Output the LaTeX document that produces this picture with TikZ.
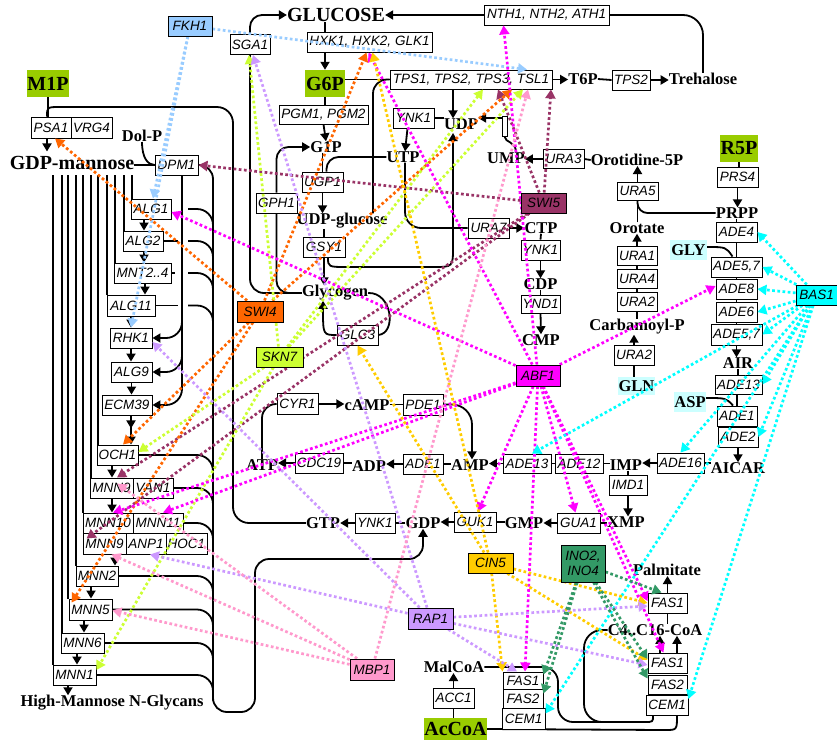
\documentclass[tikz,border=0pt]{standalone}
\usepackage{fontspec}
\setmainfont{Liberation Serif}
\setsansfont{Liberation Sans}
\usetikzlibrary{arrows.meta}
\pgfdeclarelayer{bg}
\pgfdeclarelayer{fg}
\pgfsetlayers{bg,main,fg}

\definecolor{poolc}{HTML}{99CC00}
\definecolor{aac}{HTML}{CCFFFF}
\definecolor{fkhc}{HTML}{99CCFF}
\definecolor{swifive}{HTML}{993366}
\definecolor{swifour}{HTML}{FF6600}
\definecolor{sknc}{HTML}{CCFF33}
\definecolor{abfc}{HTML}{FF00FF}
\definecolor{basc}{HTML}{00FFFF}
\definecolor{cinc}{HTML}{FFCC00}
\definecolor{rapc}{HTML}{CC99FF}
\definecolor{mbpc}{HTML}{FF99CC}
\definecolor{inoc}{HTML}{339966}

% gene box: name, centre, width, label
\newcommand\gb[5][]{\node[gene,minimum width=#4pt,#1] (#2) at (#3) {#5};}

\begin{document}
\begin{tikzpicture}[x=1pt,y=-1pt,
  gene/.style={draw, line width=0.9pt, fill=white, inner sep=0pt, minimum height=20pt,
               font=\sffamily\itshape\fontsize{13.5}{15}\selectfont},
  met/.style={inner sep=0pt, font=\bfseries\fontsize{16.5}{18}\selectfont},
  bigmet/.style={inner sep=0pt, font=\bfseries\fontsize{20}{22}\selectfont},
  pool/.style={bigmet, fill=poolc, minimum height=27pt},
  aa/.style={met, fill=aac, minimum height=20pt},
  rx/.style={line width=1.8pt},
  rxa/.style={rx, -{Triangle[length=8pt,width=9pt]}},
  ctl/.style={draw=#1, line width=2.7pt, dash pattern=on 2.7pt off 2.5pt,
              -{Triangle[length=9pt,width=10pt]}}]
\path[use as bounding box] (0,0) rectangle (837,742);

% ---------------- enzymes ----------------
\gb{sga}{250,44.5}{40}{SGA1}
\gb{hxk}{369.5,42}{125}{HXK1, HXK2, GLK1}
\gb{nth}{546.5,15}{125}{NTH1, NTH2, ATH1}
\gb[minimum height=19pt]{tps}{471,79.5}{162}{TPS1, TPS2, TPS3, TSL1}
\gb{tps2}{631,80}{38}{TPS2}
\gb[minimum height=19pt]{pgm}{323.5,114.5}{89}{PGM1, PGM2}
\gb{ynk1a}{413.5,118}{41}{YNK1}
\gb{ura6}{504.5,126}{5}{}
\gb{ugp1}{322.5,182}{41}{UGP1}
\gb{gph1}{276.5,203}{41}{GPH1}
\gb[minimum height=19pt]{ura3}{563.5,159}{41}{URA3}
\gb{gsy1}{324,247}{42}{GSY1}
\gb{ura7}{488.5,228}{41}{URA7}
\gb{ynk1b}{540.5,250}{39}{YNK1}
\gb[minimum height=18pt]{ynd1}{540.5,304}{39}{YND1}
\gb{glc3}{357.5,335}{41}{GLC3}
\gb[minimum height=18pt]{ura5}{637.5,191}{41}{URA5}
\gb{prs4}{737.5,177}{41}{PRS4}
\gb[minimum height=19pt]{ura1}{637,256}{40}{URA1}
\gb[minimum height=19pt]{ura4}{637,279}{40}{URA4}
\gb[minimum height=19pt]{ura2a}{637,302}{40}{URA2}
\gb{ura2b}{634,355}{40}{URA2}
\gb{ade4}{736.5,232}{41}{ADE4}
\gb{ade57a}{736.5,267}{51}{ADE5,7}
\gb{ade8}{736.5,289}{41}{ADE8}
\gb{ade6}{736.5,312}{41}{ADE6}
\gb[minimum height=21pt]{ade57b}{736.5,334.5}{51}{ADE5,7}
\gb[minimum height=19pt]{ade13b}{738.5,384.5}{47}{ADE13}
\gb{ade1b}{737,416}{40}{ADE1}
\gb{ade2}{738,437}{40}{ADE2}
\gb{ade16}{680.5,463}{47}{ADE16}
\gb[minimum height=19pt]{ade12}{579,463.5}{48}{ADE12}
\gb[minimum height=19pt]{ade13a}{527,463.5}{48}{ADE13}
\gb{imd1}{628,485}{38}{IMD1}
\gb{ade1a}{423,464}{40}{ADE1}
\gb{cdc19}{319,463}{48}{CDC19}
\gb[minimum height=21pt]{cyr1}{297.5,404}{41}{CYR1}
\gb[minimum height=21pt]{pde1}{423,404.5}{40}{PDE1}
\gb{ynk1c}{375,523}{40}{YNK1}
\gb{guk1}{475,522}{42}{GUK1}
\gb{gua1}{578.5,523}{43}{GUA1}
\gb{fas1t}{667.5,603}{39}{FAS1}
\gb{fas1r}{667.5,663}{39}{FAS1}
\gb[minimum height=19pt]{fas2r}{667.5,684.5}{39}{FAS2}
\gb{cem1r}{667,705}{42}{CEM1}
\gb[minimum height=17pt]{fas1l}{523,680.5}{40}{FAS1}
\gb[minimum height=19pt]{fas2l}{523,698.5}{40}{FAS2}
\gb[minimum height=21pt]{cem1l}{523.5,718.5}{43}{CEM1}
\gb{acc1}{453.5,698}{41}{ACC1}
% mannosylation
\gb[minimum height=21pt]{psa1}{51,127.5}{40}{PSA1}
\gb[minimum height=21pt]{vrg4}{91.5,127.5}{41}{VRG4}
\gb{dpm1}{176.5,165}{43}{DPM1}
\gb{alg1}{151,209}{40}{ALG1}
\gb{alg2}{143,241}{40}{ALG2}
\gb{mnt}{142.5,273}{57}{MNT2..4}
\gb[minimum height=21pt]{alg11}{131,305.5}{48}{ALG11}
\gb{rhk1}{131,338}{42}{RHK1}
\gb{alg9}{131.5,372}{41}{ALG9}
\gb{ecm39}{127,405}{50}{ECM39}
\gb{och1}{117.5,455}{41}{OCH1}
\gb{mnn9a}{111.5,488}{43}{MNN9}
\gb{van1}{153,488}{40}{VAN1}
\gb{mnn10}{108,523}{50}{MNN10}
\gb{mnn11}{158,523}{50}{MNN11}
\gb[minimum height=21pt]{mnn9b}{104.5,543.5}{43}{MNN9}
\gb[minimum height=21pt]{anp1}{146,543.5}{40}{ANP1}
\gb[minimum height=21pt]{hoc1}{186.5,543.5}{41}{HOC1}
\gb{mnn2}{97,576}{42}{MNN2}
\gb[minimum height=21pt]{mnn5}{90.5,609.5}{43}{MNN5}
\gb{mnn6}{82.5,643}{43}{MNN6}
\gb{mnn1}{74.5,675}{43}{MNN1}

% ---------------- metabolites ----------------
\node[bigmet] (glucose) at (336,15) {GLUCOSE};
\node[pool, minimum width=40pt] (g6p) at (325,83.5) {G6P};
\node[pool, minimum width=42pt] (m1p) at (48,83.5) {M1P};
\node[pool, minimum width=38pt] (r5p) at (739,148.5) {R5P};
\node[pool, minimum width=63pt, minimum height=22pt] (acoa) at (455.5,729) {AcCoA};
\node[bigmet] (gdpm) at (72,163) {GDP-mannose};
\node[met] (dolp) at (142,136) {Dol-P};
\node[met] (g1p) at (326,147) {G1P};
\node[met] (udp) at (461,124) {UDP};
\node[met] (utp) at (403,157) {UTP};
\node[met] (ump) at (506,158) {UMP};
\node[met] (oro5p) at (637,160) {Orotidine-5P};
\node[met] (t6p) at (583,79) {T6P};
\node[met] (treh) at (703,79) {Trehalose};
\node[met] (udpg) at (342,221) {UDP-glucose};
\node[met] (glyc) at (335,293) {Glycogen};
\node[met] (ctp) at (541,228) {CTP};
\node[met] (cdp) at (540.5,284) {CDP};
\node[met] (cmp) at (541,340) {CMP};
\node[met] (prpp) at (737,213) {PRPP};
\node[met] (orot) at (637,228) {Orotate};
\node[met] (carb) at (637,327) {Carbamoyl-P};
\node[aa, minimum width=37pt, minimum height=18pt] (gln) at (636.5,386) {GLN};
\node[aa, minimum width=37pt] (gly) at (688.5,250) {GLY};
\node[aa, minimum width=32pt] (asp) at (690,402) {ASP};
\node[met] (air) at (738,363) {AIR};
\node[met] (aicar) at (738,468) {AICAR};
\node[met] (imp) at (626,465) {IMP};
\node[met] (xmp) at (626,522) {XMP};
\node[met] (amp) at (470,465) {AMP};
\node[met] (adp) at (369,466) {ADP};
\node[met] (atp) at (262,465) {ATP};
\node[met] (camp) at (367,405) {cAMP};
\node[met] (gtp) at (323,523) {GTP};
\node[met] (gdp) at (423,523) {GDP};
\node[met] (gmp) at (524,523) {GMP};
\node[met] (palm) at (667,570) {Palmitate};
\node[met] (c416) at (655,630) {C4..C16-CoA};
\node[met] (malcoa) at (454,667) {MalCoA};
\node[met] (hmng) at (112,703) {High-Mannose N-Glycans};

% ---------------- transcription factors ----------------
\begin{pgfonlayer}{fg}
\node[gene, fill=fkhc, minimum width=44pt] (fkh1) at (190,26) {FKH1};
\node[gene, fill=swifive, minimum width=45pt] (swi5) at (543.5,203) {SWI5};
\node[gene, fill=swifour, minimum width=46pt, minimum height=21pt] (swi4) at (260,311.5) {SWI4};
\node[gene, fill=sknc, minimum width=47pt] (skn7) at (279.5,357) {SKN7};
\node[gene, fill=abfc, minimum width=44pt, minimum height=21pt] (abf1) at (538,375.5) {ABF1};
\node[gene, fill=basc, minimum width=41pt] (bas1) at (816.5,295) {BAS1};
\node[gene, fill=cinc, minimum width=45pt] (cin5) at (490.5,563) {CIN5};
\node[gene, fill=rapc, minimum width=45pt, minimum height=21pt] (rap1) at (430.5,618.5) {RAP1};
\node[gene, fill=mbpc, minimum width=44pt, minimum height=21pt] (mbp1) at (372,669.5) {MBP1};
\node[gene, fill=inoc, minimum width=44pt, minimum height=37pt, align=center,
      font=\sffamily\itshape\fontsize{13.5}{15}\selectfont] (ino) at (583,563.5) {INO2,\\INO4};
\end{pgfonlayer}

% ---------------- reactions ----------------
\begin{pgfonlayer}{bg}
% glucose, trehalose
\draw[rxa, rounded corners=12pt] (sga.north) |- (glucose.west);
\draw[rxa] (nth.west) -- (glucose.east);
\draw[rx, rounded corners=20pt] (nth.east) -| (treh.north);
\draw[rx] (g6p |- glucose.south) -- (g6p |- hxk.north);
\draw[rxa] (g6p |- hxk.south) -- (g6p.north);
\draw[rx] (g6p.east |- tps.west) -- (tps.west);
\draw[rx, rounded corners=14pt] ([xshift=31pt]udpg.north) |- (tps.west);
\draw[rxa] (tps.east) -- (t6p.west |- tps.east);
\draw[rx] (t6p.east) -- (tps2.west);
\draw[rxa] (tps2.east) -- (treh.west |- tps2.east);
% glycogen
\draw[rx] (g6p.south) -- (g6p.south |- pgm.north);
\draw[rxa] (pgm.south) -- (g1p.north);
\draw[rx] (g1p.south -| ugp1) -- (ugp1.north);
\draw[rx, rounded corners=12pt] (utp.west) -| ([xshift=4pt]ugp1.north);
\draw[rxa] (ugp1.south) -- (ugp1.south |- udpg.north);
\draw[rx] (udpg.south -| gsy1) -- (gsy1.north);
\draw[rxa] (gsy1.south) -- (gsy1.south |- glyc.north);
\draw[rxa] ([xshift=4pt]gsy1.south) .. controls (328,267) .. (348,267) -- (433,267)
  .. controls (453,267) .. (453,247) -- (453,133);
\draw[rx, rounded corners=14pt] (sga.south) |- (glyc.west);
\draw[rx, rounded corners=12pt] (gph1.south) |- (glyc.west);
\draw[rxa, rounded corners=12pt] (gph1.north) |- (g1p.west);
\draw[rx] (glyc.east) .. controls (392,292) and (397,333) .. (glc3.east);
\draw[rxa] (glc3.west) .. controls (323,335) .. ([xshift=-12pt]glyc.south);
% pyrimidines
\draw[rxa] ([xshift=-18pt]tps.south) -- ([xshift=-8pt]udp.north);
\draw[rx] (ynk1a.east) -- (udp.west |- ynk1a.east);
\draw[rxa] ([xshift=-6pt]ynk1a.south) -- ([xshift=2pt]utp.north);
\draw[rxa] ([yshift=8pt]ura6.west) -- ([yshift=6pt]udp.east);
\draw[rx] ([xshift=10pt]ump.north) .. controls (516,141) and (505,143) .. (ura6.south);
\draw[rxa] (ura3.west) -- (ump.east |- ura3.west);
\draw[rx] (oro5p.west) -- (ura3.east);
\draw[rx, rounded corners=16pt] ([xshift=2pt]utp.south) |- (ura7.west);
\draw[rxa] (ura7.east) -- (ctp.west);
\draw[rx] (ctp.south) -- (ynk1b.north);
\draw[rxa] (ynk1b.south) -- (cdp.north);
\draw[rx] (cdp.south) -- (ynd1.north);
\draw[rxa] (ynd1.south) -- (cmp.north);
\draw[rx] (r5p.south) -- (r5p.south |- prs4.north);
\draw[rxa] (prs4.south) -- (prs4.south |- prpp.north);
\draw[rx, rounded corners=10pt] (prpp.west) -| (ura5.south);
\draw[rx] (orot.north -| ura5) -- (ura5.south);
\draw[rxa] (ura5.north) -- (ura5.north |- oro5p.south);
\draw[rxa] (ura1.north) -- (ura1.north |- orot.south);
\draw[rx] (ura1.south) -- (ura4.north);
\draw[rx] (ura4.south) -- (ura2a.north);
\draw[rx] (ura2a.south) -- (ura2a.south |- carb.north);
\draw[rxa] (ura2b.north) -- (ura2b.north |- carb.south);
\draw[rx] (ura2b.south) -- (ura2b.south |- gln.north);
% purines
\draw[rx] (prpp.south -| ade4) -- (ade4.north);
\draw[rx] (ade4.south) -- (ade57a.north);
\draw[rx] ([yshift=3pt]gly.east) .. controls (726,247) .. ([xshift=-4pt]ade57a.north);
\draw[rx] (ade57a.south) -- (ade8.north);
\draw[rx] (ade8.south) -- (ade6.north);
\draw[rx] (ade6.south) -- (ade57b.north);
\draw[rxa] (ade57b.south) -- (ade57b.south |- air.north);
\draw[rx] (air.south) -- (air.south |- ade13b.north);
\draw[rx] (ade13b.south -| ade1b) -- (ade1b.north);
\draw[rx] ([yshift=4pt]asp.east) .. controls (726,398) .. ([xshift=-4pt]ade1b.north);
\draw[rxa] (ade2.south) -- (ade2.south |- aicar.north);
\draw[rx] (aicar.west |- ade16.east) -- (ade16.east);
\draw[rxa] (ade16.west) -- (imp.east |- ade16.west);
\draw[rx] (imp.west |- ade12.east) -- (ade12.east);
\draw[rx] (ade12.west) -- (ade13a.east);
\draw[rxa] (ade13a.west) -- (amp.east |- ade13a.west);
\draw[rx] (amp.west |- ade1a.east) -- (ade1a.east);
\draw[rxa] (ade1a.west) -- (adp.east |- ade1a.west);
\draw[rx] (adp.west |- cdc19.east) -- (cdc19.east);
\draw[rxa] (cdc19.west) -- (atp.east |- cdc19.west);
\draw[rx, rounded corners=14pt] (atp.north) |- (cyr1.west);
\draw[rxa] (cyr1.east) -- (camp.west |- cyr1.east);
\draw[rx] (camp.east |- pde1.west) -- (pde1.west);
\draw[rxa, rounded corners=20pt] (pde1.east) -| ([xshift=2pt]amp.north);
\draw[rx] (imd1.north |- imp.south) -- (imd1.north);
\draw[rxa] (imd1.south) -- (imd1.south |- xmp.north);
\draw[rx] (xmp.west |- gua1.east) -- (gua1.east);
\draw[rxa] (gua1.west) -- (gmp.east |- gua1.west);
\draw[rx] (gmp.west |- guk1.east) -- (guk1.east);
\draw[rxa] (guk1.west) -- (gdp.east |- guk1.west);
\draw[rx] (gdp.west |- ynk1c.east) -- (ynk1c.east);
\draw[rxa] (ynk1c.west) -- (gtp.east |- ynk1c.west);
% GTP feeds GDP-mannose synthesis
\draw[rx, rounded corners=16pt] (gtp.west) -- (233,523) -- (233,107) -- (60,107);
\draw[rx] (60.5,107) .. controls (47,107) .. ([xshift=-4pt]psa1.north);
\draw[rx] (m1p.south) -- (m1p.south |- psa1.north);
\draw[rxa] ([xshift=-4pt]psa1.south) -- ++(0,13);
\draw[rx] (gdpm.east |- dpm1.west) -- (dpm1.west);
\draw[rx] (dolp.south) .. controls (142,158) and (148,165) .. (dpm1.west);
% Dol-P-Man donors
\draw[rxa, rounded corners=16pt] ([xshift=5.5pt]dpm1.south) |- (rhk1.east);
\draw[rxa, rounded corners=16pt] ([xshift=5.5pt]dpm1.south) |- (alg9.east);
\draw[rxa, rounded corners=16pt] ([xshift=5.5pt]dpm1.south) |- (ecm39.east);
% GDP return loop
\draw[rxa, rounded corners=14pt] (dpm1.east) -| (213,712) -| (255,559) -| (gdp.south);
\foreach \y in {209,241,273,305.5}
  \draw[rx, rounded corners=16pt] (188,\y) -| (213,700);
\draw[rx] (alg2.east) -- (178,241);
\draw[rx] (mnt.east) -- (175,273);
\draw[rx] (alg11.east) -- (178,305.5);
\foreach \b in {och1,van1,mnn11,mnn2,mnn5,mnn6,mnn1}
  \draw[rx, rounded corners=16pt] (\b.east) -| (213,700);
% GDP-mannose to each mannosyltransferase
\foreach \x/\y in {53/665,62/633,68/599,76/566,83/513,91/478,98/445,107/295,115/263,124/231,132/199}
  \draw[line width=1.4pt] (\x,175) -- (\x,\y);
% glycan chain
\draw[rxa] ([xshift=-7pt]alg1.south) -- ([xshift=1pt]alg2.north);
\draw[rxa] ([xshift=1pt]alg2.south) -- ([xshift=1.5pt]mnt.north);
\draw[rxa] ([xshift=2.5pt]mnt.south) -- ([xshift=14pt]alg11.north);
\draw[rxa] (alg11.south) -- (rhk1.north);
\draw[rxa] (rhk1.south) -- (rhk1.south |- alg9.north);
\draw[rxa] (alg9.south) -- (alg9.south |- ecm39.north);
\draw[rxa] ([xshift=4pt]ecm39.south) -- ++(0,13);
\draw[rxa] ([xshift=4pt]ecm39.south) ++(0,10) -- ([xshift=13.5pt]och1.north);
\draw[rxa] ([xshift=-5.5pt]och1.south) -- ([xshift=0.5pt]mnn9a.north);
\draw[rxa] ([xshift=0.5pt]mnn9a.south) -- ([xshift=4pt]mnn10.north);
\draw[rxa] ([xshift=10.5pt]mnn9b.south) -- ([xshift=18pt]mnn2.north);
\draw[rxa] ([xshift=-6pt]mnn2.south) -- ([xshift=0.5pt]mnn5.north);
\draw[rxa] ([xshift=-6.5pt]mnn5.south) -- ([xshift=1.5pt]mnn6.north);
\draw[rxa] ([xshift=-5.5pt]mnn6.south) -- ([xshift=2.5pt]mnn1.north);
\draw[rxa] ([xshift=-6.5pt]mnn1.south) -- ([xshift=-44pt]hmng.north);
% fatty acids
\draw[rxa] (fas1t.north) -- (fas1t.north |- palm.south);
\draw[rx] (fas1t.south) -- (fas1t.south |- c416.north);
\draw[rxa] ([xshift=-7.5pt]fas1r.north) -- ([xshift=-7.5pt]fas1r.north |- c416.south);
\draw[rxa] ([xshift=9.5pt]fas1r.north) -- ([xshift=9.5pt]fas1r.north |- c416.south);
\draw[rx, rounded corners=15pt] (malcoa.east) -- (558,667) -- (558,722) -- (645,722);
\draw[rx] (644.5,722) .. controls (653,722) .. ([xshift=-14pt]cem1r.south);
\draw[rx, rounded corners=18pt] (c416.west) -- (584,630) -- (584,722) -- (600,722);
\draw[rx] (acoa.east) -- (665,730) .. controls (677,730) .. ([xshift=10pt]cem1r.south);
\draw[rx] (acc1.south |- acoa.north) -- (acc1.south);
\draw[rxa] (acc1.north) -- (acc1.north |- malcoa.south);
\end{pgfonlayer}

% ---------------- regulation ----------------
% FKH1
\draw[ctl=fkhc] (fkh1) -- ([xshift=56pt]tps.north);
\draw[ctl=fkhc] (fkh1) -- ([xshift=2pt]alg1.north);
\draw[ctl=fkhc] (fkh1) -- (rhk1.north);
% SWI5
\draw[ctl=swifive] (swi5) -- (dpm1.east);
\draw[ctl=swifive] (swi5) -- ([xshift=80pt]tps.south);
\draw[ctl=swifive] (swi5) -- ([xshift=27pt]tps.south);
\draw[ctl=swifive] (swi5) -- ([xshift=5.5pt]mnn9a.north);
\draw[ctl=swifive] (swi5) -- ([xshift=4pt,yshift=-6pt]mnn9b.north west);
% SWI4
\draw[ctl=swifour] (swi4) -- ([xshift=4pt]psa1.south);
\draw[ctl=swifour] (swi4) -- ([xshift=-3pt]hxk.south);
\draw[ctl=swifour] (swi4) -- ([xshift=41pt]tps.south);
\draw[ctl=swifour] (swi4) -- ([xshift=5.5pt]och1.north);
\draw[ctl=swifour] (swi4) -- ([xshift=3pt,yshift=-4pt]mnn5.north west);
% SKN7
\draw[ctl=sknc] (skn7) -- ([xshift=-1pt]sga.south);
\draw[ctl=sknc] (skn7) -- ([xshift=12pt]tps.south);
\draw[ctl=sknc] (skn7) -- ([xshift=52pt]tps.south);
\draw[ctl=sknc] (skn7) -- ([yshift=3pt]och1.east);
\draw[ctl=sknc] (skn7) -- ([yshift=5pt]mnn1.east);
% ABF1
\draw[ctl=abfc] (abf1) -- ([xshift=-43pt]nth.south);
\draw[ctl=abfc] (abf1) -- ([xshift=-1pt]hxk.south);
\draw[ctl=abfc] (abf1) -- ([yshift=-3pt]alg1.east);
\draw[ctl=abfc] (abf1) -- ([xshift=5pt]mnn10.north);
\draw[ctl=abfc] (abf1) -- ([xshift=5pt]mnn11.north);
\draw[ctl=abfc] (abf1) -- ([yshift=3pt]ade8.west);
\draw[ctl=abfc] (abf1) -- ([xshift=3pt]guk1.north);
\draw[ctl=abfc] (abf1) -- ([xshift=-3pt]gua1.north);
\draw[ctl=abfc] (abf1) -- ([xshift=2pt]fas1l.north);
\draw[ctl=abfc] (abf1) -- ([yshift=2pt]fas1t.west);
\draw[ctl=abfc] (abf1) -- ([xshift=-4pt]fas1r.north);
% BAS1
\draw[ctl=basc] (bas1) -- (ade4.east);
\draw[ctl=basc] (bas1) -- (ade57a.east);
\draw[ctl=basc] (bas1) -- (ade8.east);
\draw[ctl=basc] (bas1) -- (ade6.east);
\draw[ctl=basc] (bas1) -- (ade57b.east);
\draw[ctl=basc] (bas1) -- (ade13b.east);
\draw[ctl=basc] (bas1) -- (ade2.east);
\draw[ctl=basc] (bas1) -- (ade16.north);
\draw[ctl=basc] (bas1) -- ([xshift=5pt]ade13a.north);
\draw[ctl=basc] (bas1) -- ([yshift=5pt]cem1l.east);
\draw[ctl=basc] (bas1) -- ([yshift=6pt]cem1r.east);
% CIN5
\draw[ctl=cinc] (cin5) -- ([xshift=3pt]hxk.south);
\draw[ctl=cinc] (cin5) -- (glc3.south);
\draw[ctl=cinc] (cin5) -- (fas1l.north west);
\draw[ctl=cinc] (cin5) -- (fas1t.west);
\draw[ctl=cinc] (cin5) -- ([yshift=3pt]fas1r.west);
% RAP1
\draw[ctl=rapc] (rap1) -- ([xshift=3pt]sga.south);
\draw[ctl=rapc] (rap1) -- ([yshift=-4pt]rhk1.east);
\draw[ctl=rapc] (rap1) -- ([xshift=4pt]anp1.south);
\draw[ctl=rapc] (rap1) -- ([xshift=-6pt]fas1l.north);
\draw[ctl=rapc] (rap1) -- ([yshift=-3pt]fas1t.west);
\draw[ctl=rapc] (rap1) -- ([yshift=-2pt]fas1r.west);
% MBP1
\draw[ctl=mbpc] (mbp1) -- ([xshift=57pt]tps.south);
\draw[ctl=mbpc] (mbp1) -- ([xshift=6pt,yshift=-6pt]mnn9a.north);
\draw[ctl=mbpc] (mbp1) -- ([xshift=7pt]mnn9b.south);
\draw[ctl=mbpc] (mbp1) -- ([yshift=-1pt]mnn5.east);
% INO2/INO4
\draw[ctl=inoc] (ino) -- ([xshift=-6pt]fas1t.north);
\draw[ctl=inoc] (ino) -- ([yshift=4pt]fas1r.west);
\draw[ctl=inoc] (ino) -- ([yshift=6pt]fas2r.west);
\draw[ctl=inoc] (ino) -- ([yshift=6pt]fas1l.east);
\draw[ctl=inoc] (ino) -- ([yshift=5pt]fas2l.east);
\end{tikzpicture}
\end{document}
